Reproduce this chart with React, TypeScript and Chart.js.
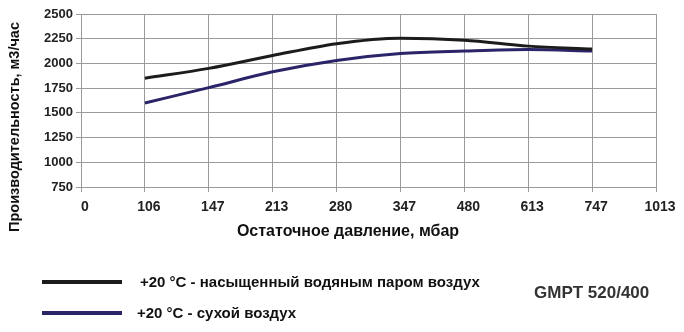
import React, { useEffect, useRef } from "react";
import { Chart, registerables } from "chart.js";

Chart.register(...registerables);

const categories = ["0", "106", "147", "213", "280", "347", "480", "613", "747", "1013"];
const saturatedAir = [null, 1850, 1950, 2080, 2200, 2255, 2235, 2175, 2145, null];
const dryAir = [null, 1600, 1755, 1915, 2030, 2100, 2125, 2140, 2125, null];
const yTicks = [750, 1000, 1250, 1500, 1750, 2000, 2250, 2500];

const seriesLabels = ["+20 °C - насыщенный водяным паром воздух", "+20 °C - сухой воздух"];
const colors = ["#1c1c1c", "#2b2468"];
const xTitle = "Остаточное давление, мбар";
const yTitle = "Производительность, м3/час";
const modelName = "GMPT 520/400";

const SANS = '"Liberation Sans", Arial, sans-serif';

const titlesPlugin = {
  id: "customTitles",
  afterDraw(chart: any) {
    const ctx = chart.ctx;
    ctx.save();
    ctx.fillStyle = "#111";
    ctx.textAlign = "center";
    ctx.textBaseline = "middle";
    ctx.font = `bold 16px ${SANS}`;
    ctx.fillText(xTitle, 348, 232);
    ctx.translate(15, 127);
    ctx.rotate(-Math.PI / 2);
    ctx.font = `bold 14.5px ${SANS}`;
    ctx.fillText(yTitle, 0, 0);
    ctx.restore();
  },
};

export default function App() {
  const ref = useRef<HTMLCanvasElement | null>(null);
  useEffect(() => {
    if (!ref.current) return;
    const chart = new Chart(ref.current, {
      type: "line",
      data: {
        labels: categories,
        datasets: [
          {
            label: seriesLabels[0],
            data: saturatedAir,
            borderColor: colors[0],
            borderWidth: 3,
            pointRadius: 0,
            cubicInterpolationMode: "monotone",
          },
          {
            label: seriesLabels[1],
            data: dryAir,
            borderColor: colors[1],
            borderWidth: 3,
            pointRadius: 0,
            cubicInterpolationMode: "monotone",
          },
        ],
      },
      options: {
        animation: false,
        responsive: false,
        maintainAspectRatio: false,
        layout: { padding: { top: 14, right: 28, left: 0, bottom: 82 } },
        plugins: { legend: { display: false }, tooltip: { enabled: false } },
        scales: {
          x: {
            type: "category",
            offset: false,
            grid: { color: "#9a9a9a", lineWidth: 1, tickLength: 5, drawTicks: true },
            border: { color: "#9a9a9a" },
            ticks: {
              color: "#222",
              font: { family: SANS, size: 14, weight: "bold" },
              padding: 7,
              labelOffset: 4,
              maxRotation: 0,
              autoSkip: false,
            },
            title: { display: false },
            afterFit: (s: any) => {
              s.height = 63;
            },
          },
          y: {
            min: 750,
            max: 2500,
            afterBuildTicks: (s: any) => {
              s.ticks = yTicks.map((v) => ({ value: v }));
            },
            grid: { color: "#9a9a9a", lineWidth: 1, tickLength: 5, drawTicks: true },
            border: { color: "#9a9a9a" },
            ticks: {
              color: "#222",
              font: { family: SANS, size: 13, weight: "bold" },
              padding: 3,
              callback: (v: any) => String(v),
            },
            title: { display: false },
            afterFit: (s: any) => {
              s.width = 81;
            },
          },
        },
      },
      plugins: [titlesPlugin],
    });
    return () => chart.destroy();
  }, []);

  const legendText: React.CSSProperties = {
    position: "absolute",
    fontFamily: SANS,
    fontWeight: "bold",
    fontSize: 15,
    color: "#111",
    lineHeight: "18px",
    whiteSpace: "nowrap",
  };

  return (
    <div style={{ position: "absolute", left: 0, top: 0, width: 684, height: 332, background: "#fff", overflow: "hidden" }}>
      <canvas ref={ref} width={684} height={332} style={{ position: "absolute", left: 0, top: 0, width: 684, height: 332 }} />
      <div style={{ position: "absolute", left: 42, top: 280, width: 80, height: 4, background: colors[0] }} />
      <div style={{ ...legendText, left: 140, top: 273 }}>{seriesLabels[0]}</div>
      <div style={{ position: "absolute", left: 42, top: 311, width: 80, height: 4, background: colors[1] }} />
      <div style={{ ...legendText, left: 137, top: 304 }}>{seriesLabels[1]}</div>
      <div
        style={{
          position: "absolute",
          left: 534,
          top: 284,
          fontFamily: SANS,
          fontWeight: "bold",
          fontSize: 17,
          color: "#333",
          lineHeight: "18px",
          whiteSpace: "nowrap",
        }}
      >
        {modelName}
      </div>
    </div>
  );
}
